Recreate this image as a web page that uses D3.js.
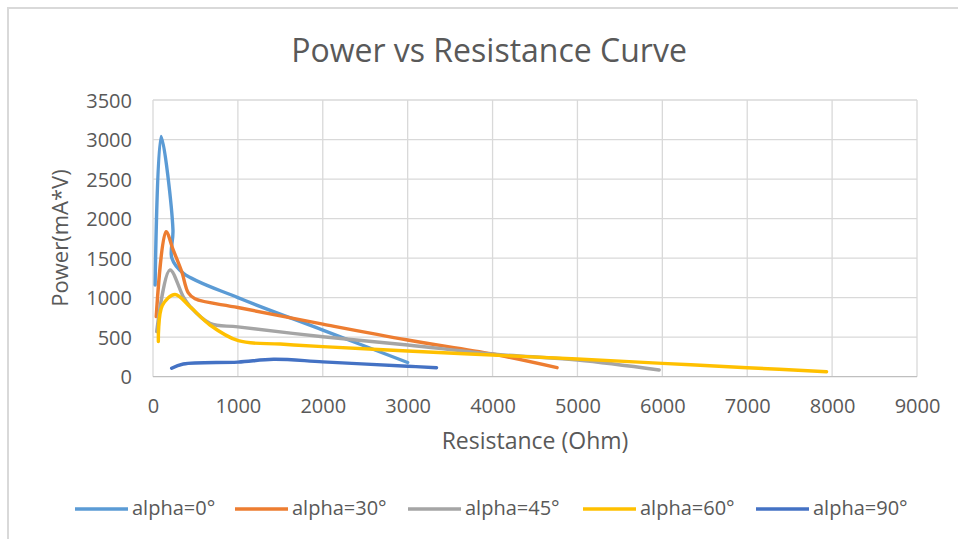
<!DOCTYPE html>
<html>
<head>
<meta charset="utf-8">
<script src="https://cdn.jsdelivr.net/npm/d3@7"></script>
<style>
  html, body { margin: 0; padding: 0; background: #fff; }
  svg { display: block; font-family: "Open Sans", sans-serif; }
</style>
</head>
<body>
<svg id="chart" width="958" height="539"></svg>
<script>
// ---- data ----
const seriesNames = ["alpha=0°", "alpha=30°", "alpha=45°", "alpha=60°", "alpha=90°"];
const seriesColors = ["#5B9BD5", "#ED7D31", "#A5A5A5", "#FFC000", "#4472C4"];

const alpha0 = [[25, 1160], [95, 3040], [235, 1860], [222, 1500], [355, 1310], [1000, 1000], [2000, 590], [3000, 180]];
const alpha30 = [[38, 760], [153, 1833], [239, 1600], [338, 1330], [416, 1060], [495, 985], [1000, 875], [2000, 665], [3000, 464], [4000, 287], [4760, 114]];
const alpha45 = [[43, 570], [200, 1350], [357, 1010], [436, 890], [671, 675], [1000, 630], [2000, 506], [3000, 401], [4000, 287], [5000, 211], [5963, 85]];
const alpha60 = [[63, 445], [110, 900], [259, 1040], [436, 885], [671, 654], [1005, 455], [1500, 413], [2000, 380], [3000, 325], [4000, 274], [5000, 224], [6000, 169], [7000, 114], [7935, 63]];
const alpha90 = [[220, 106], [357, 161], [1000, 185], [1420, 220], [2000, 188], [3000, 132], [3340, 114]];
const seriesData = [alpha0, alpha30, alpha45, alpha60, alpha90];

const xTicks = [0, 1000, 2000, 3000, 4000, 5000, 6000, 7000, 8000, 9000];
const yTicks = [0, 500, 1000, 1500, 2000, 2500, 3000, 3500];

const titleText = "Power vs Resistance Curve";
const xTitle = "Resistance (Ohm)";
const yTitle = "Power(mA*V)";

// ---- layout ----
const legendStarts = [75, 235, 408, 583, 756];

// ---- drawing ----
const svg = d3.select("#chart");
const textColor = "#595959";
const gridColor = "#d9d9d9";

// chart border
svg.append("rect")
  .attr("x", 8).attr("y", 8).attr("width", 970).attr("height", 560)
  .attr("fill", "#fff").attr("stroke", "#d9d9d9").attr("stroke-width", 2);

const x = d3.scaleLinear().domain([0, 9000]).range([153, 917]);
const y = d3.scaleLinear().domain([0, 3500]).range([376.7, 100]);

// gridlines
const g = svg.append("g");
g.selectAll(".vg").data(xTicks).join("line")
  .attr("x1", d => x(d)).attr("x2", d => x(d))
  .attr("y1", y(0)).attr("y2", y(3500))
  .attr("stroke", gridColor).attr("stroke-width", 1.3);
g.selectAll(".hg").data(yTicks).join("line")
  .attr("x1", x(0)).attr("x2", x(9000))
  .attr("y1", d => y(d)).attr("y2", d => y(d))
  .attr("stroke", d => d === 0 ? "#bfbfbf" : gridColor).attr("stroke-width", 1.3);

// axes (labels only)
const xAxis = d3.axisBottom(x).tickValues(xTicks).tickSize(0).tickPadding(0).tickFormat(d3.format("d"));
const xa = svg.append("g").attr("transform", `translate(0, 413)`).call(xAxis);
xa.select(".domain").remove();
xa.selectAll("text").attr("dy", 0).attr("y", 0)
  .attr("fill", textColor).style("font-size", "20px").style("font-family", "Open Sans");

const yAxis = d3.axisLeft(y).tickValues(yTicks).tickSize(0).tickPadding(0).tickFormat(d3.format("d"));
const ya = svg.append("g").attr("transform", `translate(132, 0)`).call(yAxis);
ya.select(".domain").remove();
ya.selectAll("text").attr("x", 0).attr("dy", "0.35em")
  .attr("fill", textColor).style("font-size", "20px").style("font-family", "Open Sans");

// lines
const line = d3.line().x(d => x(d[0])).y(d => y(d[1])).curve(d3.curveCatmullRom.alpha(0.5));
svg.append("g").selectAll("path").data(seriesData).join("path")
  .attr("d", d => line(d))
  .attr("fill", "none")
  .attr("stroke", (d, i) => seriesColors[i])
  .attr("stroke-width", 3.4)
  .attr("stroke-linecap", "round")
  .attr("stroke-linejoin", "round");

// title
svg.append("text").attr("x", 489).attr("y", 62).attr("text-anchor", "middle")
  .attr("fill", textColor).style("font-size", "32px").text(titleText);

// axis titles
svg.append("text").attr("x", 535).attr("y", 449).attr("text-anchor", "middle")
  .attr("fill", textColor).style("font-size", "23px").text(xTitle);
svg.append("text").attr("transform", "translate(68,238) rotate(-90)").attr("text-anchor", "middle")
  .attr("fill", textColor).style("font-size", "22px").text(yTitle);

// legend
const legend = svg.append("g");
seriesNames.forEach((name, i) => {
  const it = legend.append("g").attr("transform", `translate(${legendStarts[i]},0)`);
  it.append("line").attr("x1", 0).attr("x2", 53).attr("y1", 509).attr("y2", 509)
    .attr("stroke", seriesColors[i]).attr("stroke-width", 3.4);
  it.append("text").attr("x", 57).attr("y", 515)
    .attr("fill", textColor).style("font-size", "20px").text(name);
});
</script>
</body>
</html>
